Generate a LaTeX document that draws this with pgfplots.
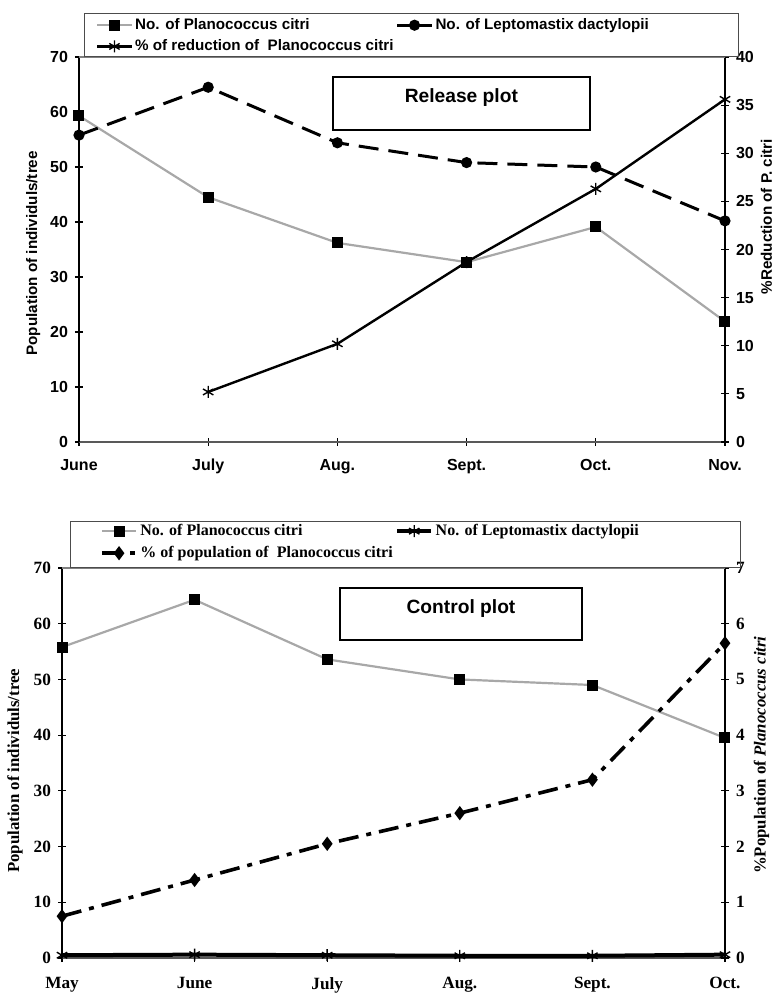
\documentclass[border=0pt]{standalone}
\usepackage{fontspec}
\setmainfont{Liberation Sans}
\newfontfamily\tnr{Liberation Serif}
\usepackage{pgfplots}
\usepackage{pgfplotstable}
\pgfplotsset{compat=1.18}
\definecolor{pgrey}{gray}{0.66}

\pgfplotstableread{
x P L
0 59.3 55.8
1 44.5 64.5
2 36.2 54.4
3 32.7 50.8
4 39.1 50.0
5 21.9 40.2
}\relLeft
\pgfplotstableread{
x R
1 5.2
2 10.2
3 18.7
4 26.3
5 35.6
}\relRight
\pgfplotstableread{
x P L
0 55.8 0.5
1 64.3 0.6
2 53.6 0.5
3 50.0 0.4
4 49.0 0.4
5 39.5 0.6
}\conLeft
\pgfplotstableread{
x Q
0 0.75
1 1.40
2 2.05
3 2.60
4 3.20
5 5.65
}\conRight

\pgfplotsset{
  pstyle/.style={color=pgrey, line width=1.1pt, mark=square*, mark size=2.2pt, mark options={fill=black, draw=black, solid}},
  lstyle/.style={color=black, line width=1.5pt, dash pattern=on 10pt off 5pt, mark=*, mark size=2pt, mark options={solid, fill=black}},
  rstyle/.style={color=black, line width=1.2pt, mark=asterisk, mark size=3pt, mark options={solid, line width=0.7pt}},
  cLstyle/.style={color=black, line width=2pt, mark=asterisk, mark size=3pt, mark options={solid, line width=0.7pt}},
  qstyle/.style={color=black, line width=1.8pt, dash pattern=on 10pt off 4pt on 2.5pt off 4pt, mark=diamond*, mark size=2.1pt, mark options={solid, fill=black}},
  topbase/.style={at={(39.5pt,278pt)}, anchor=south west, scale only axis, width=323pt, height=192.5pt,
    xmin=0, xmax=5, tick align=center, major tick length=4pt, clip=false,
    axis line style={-, line width=0.7pt}, tick style={black, line width=0.6pt},
    /pgf/number format/assume math mode=true,
    tick label style={font=\fontsize{8}{9}\selectfont\bfseries},
    label style={font=\fontsize{7.6}{9}\selectfont\bfseries}},
  botbase/.style={at={(31pt,20pt)}, anchor=south west, scale only axis, width=331.5pt, height=195pt,
    xmin=0, xmax=5, tick align=center, major tick length=4pt, clip=false,
    axis line style={-, line width=0.7pt}, tick style={black, line width=0.6pt},
    /pgf/number format/assume math mode=true,
    tick label style={font=\tnr\fontsize{8.6}{10}\selectfont\bfseries},
    label style={font=\tnr\fontsize{8.4}{10}\selectfont\bfseries}},
}

\begin{document}
\begin{tikzpicture}
\path[use as bounding box] (0,0) rectangle (386.5pt,499pt);

% ---------------- Release plot ----------------
\begin{axis}[topbase, ymin=0, ymax=70, ytick={0,10,...,70},
  axis x line*=bottom, axis y line*=left,
  x axis line style={gray!70!black},
  xtick={0,...,5}, xticklabels={June,July,Aug.,Sept.,Oct.,Nov.},
  xticklabel style={yshift=-3pt},
  ylabel={Population of individuls/tree},
  ylabel style={at={(axis description cs:-0.071,0.49)}, anchor=center}]
\addplot[pstyle] table[x=x, y=P] {\relLeft};
\addplot[lstyle] table[x=x, y=L] {\relLeft};
\end{axis}

\begin{axis}[topbase, ymin=0, ymax=40, ytick={0,5,...,40},
  axis y line*=right, axis x line=none,
  ylabel={\%Reduction of P. citri},
  ylabel style={at={(axis description cs:1.064,0.585)}, anchor=center},
  legend columns=2, legend cell align=left,
  legend style={at={(0.026,1.108)}, anchor=north west, draw=none, fill=none,
    font=\fontsize{7.6}{9}\selectfont\bfseries, row sep=1.2pt, inner sep=0pt,
    nodes={inner sep=1.2pt},
    /tikz/every odd column/.append style={text width=141pt}}]
\addlegendimage{pstyle}
\addlegendentry{No. of Planococcus citri}
\addlegendimage{lstyle, dash pattern=on 4pt off 0pt}
\addlegendentry{No. of Leptomastix dactylopii}
\addplot[rstyle] table[x=x, y=R] {\relRight};
\addlegendentry{\% of reduction of\ \ Planococcus citri}
\end{axis}

\draw[gray, line width=0.7pt] (39.5pt,470.5pt) -- (362.5pt,470.5pt);
\draw[gray!60!black, line width=0.5pt] (42pt,470.5pt) rectangle (369pt,492pt);
\draw[black, line width=0.7pt] (166.5pt,460.5pt) rectangle (295pt,434pt);
\node[font=\fontsize{9.6}{11}\selectfont\bfseries] at (230.7pt,450.3pt) {Release plot};

% ---------------- Control plot ----------------
\begin{axis}[botbase, ymin=0, ymax=70, ytick={0,10,...,70},
  axis x line*=bottom, axis y line*=left,
  x axis line style={gray!70!black},
  xtick={0,...,5}, xticklabels={May,June,July,Aug.,Sept.,Oct.},
  xticklabel style={yshift=-4pt},
  ylabel={Population of individuls/tree},
  ylabel style={at={(axis description cs:-0.071,0.48)}, anchor=center}]
\addplot[pstyle] table[x=x, y=P] {\conLeft};
\addplot[cLstyle] table[x=x, y=L] {\conLeft};
\end{axis}

\begin{axis}[botbase, ymin=0, ymax=7, ytick={0,...,7},
  axis y line*=right, axis x line=none,
  ylabel={\%Population of \textit{Planococcus citri}},
  ylabel style={at={(axis description cs:1.055,0.52)}, anchor=center},
  legend columns=2, legend cell align=left,
  legend style={at={(0.057,1.12)}, anchor=north west, draw=none, fill=none,
    font=\tnr\fontsize{8}{9.5}\selectfont\bfseries, row sep=1.5pt, inner sep=0pt,
    nodes={inner sep=1.2pt},
    /tikz/every odd column/.append style={text width=172pt}}]
\addlegendimage{pstyle}
\addlegendentry{No. of Planococcus citri}
\addlegendimage{cLstyle}
\addlegendentry{No. of Leptomastix dactylopii}
\addplot[qstyle] table[x=x, y=Q] {\conRight};
\addlegendentry{\% of population of\ \ Planococcus citri}
\end{axis}

\draw[gray, line width=1.3pt] (31pt,215pt) -- (362.5pt,215pt);
\draw[gray!60!black, line width=0.5pt] (35pt,215pt) rectangle (370pt,238pt);
\draw[black, line width=0.7pt] (170pt,205pt) rectangle (291pt,179pt);
\node[font=\fontsize{9.6}{11}\selectfont\bfseries] at (230.5pt,194.5pt) {Control plot};
\end{tikzpicture}
\end{document}
